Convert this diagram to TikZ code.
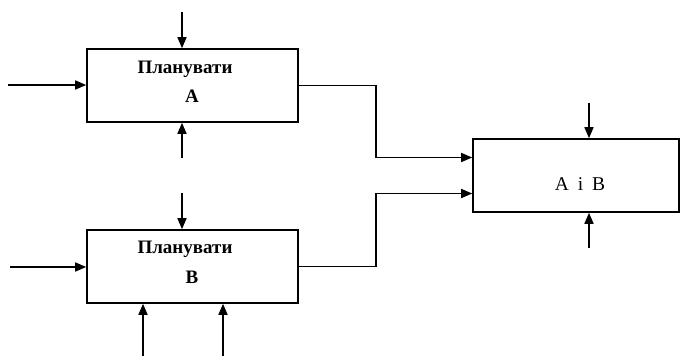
\documentclass[tikz,border=0pt]{standalone}
\usepackage{fontspec}
\setmainfont{Liberation Serif}
\usetikzlibrary{arrows.meta}
\begin{document}
\begin{tikzpicture}[x=1pt,y=-1pt,
  blk/.style={draw,line width=1.6pt,minimum width=211pt,minimum height=73pt,inner sep=0pt},
  blkc/.style={draw,line width=1.6pt,minimum width=206pt,minimum height=73pt,inner sep=0pt},
  lbl/.style={font=\fontsize{19}{22}\selectfont\bfseries,inner sep=0pt},
  arr/.style={line width=1.6pt,-{Triangle[length=11pt,width=9pt]}}]
\useasboundingbox (0,0) rectangle (680,356);
\node[blk] (A) at (192.5,85.5) {};
\node[blk] (B) at (192.5,266.5) {};
\node[blkc] (C) at (576,175.5) {};
\node[lbl] (ta) at (185,69) {Планувати};
\node[lbl] (la) at (192,96) {А};
\node[lbl] (tb) at (185,249) {Планувати};
\node[lbl] (lb) at (192,277) {В};
\node[font=\fontsize{19.5}{23}\selectfont,inner sep=0pt] (lc) at (580,184) {А\hspace{0.45em}і\hspace{0.45em}В};
% free ends
\coordinate (a1) at (182,12);
\coordinate (a2) at (182,158);
\coordinate (a3) at (8,85);
\coordinate (b1) at (182,193);
\coordinate (b2) at (10,267);
\coordinate (b3) at (143,356);
\coordinate (b4) at (223,356);
\coordinate (c1) at (589,103);
\coordinate (c2) at (589,248);
% arrows A
\draw[arr] (a1) -- (a1 |- A.north);
\draw[arr] (a2) -- (a2 |- A.south);
\draw[arr] (a3) -- (a3 -| A.west);
% arrows B
\draw[arr] (b1) -- (b1 |- B.north);
\draw[arr] (b2) -- (b2 -| B.west);
\draw[arr] (b3) -- (b3 |- B.south);
\draw[arr] (b4) -- (b4 |- B.south);
% arrows C
\draw[arr] (c1) -- (c1 |- C.north);
\draw[arr] (c2) -- (c2 |- C.south);
% outputs
\draw[arr] (A.east) -- (376,85.5) |- ([yshift=18pt]C.west);
\draw[arr] (B.east) -- (376,266.5) |- ([yshift=-18pt]C.west);
\end{tikzpicture}
\end{document}
